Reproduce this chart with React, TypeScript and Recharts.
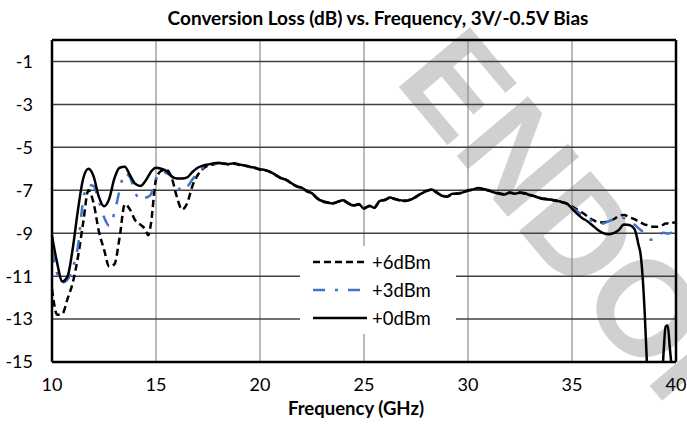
import { LineChart, Line, XAxis, YAxis, CartesianGrid, ReferenceLine } from 'recharts';

// Frequency grid (GHz), finer near the roll-off above 38 GHz
const FREQ = [
    10, 10.25, 10.5, 10.75,
    11, 11.25, 11.5, 11.75,
    12, 12.25, 12.5, 12.75,
    13, 13.25, 13.5, 13.75,
    14, 14.25, 14.5, 14.625, 14.75,
    15, 15.25, 15.5, 15.75,
    16, 16.25, 16.5, 16.75,
    17, 17.25, 17.5, 17.75,
    18, 18.25, 18.5, 18.75,
    19, 19.25, 19.5, 19.75,
    20, 20.25, 20.5, 20.75,
    21, 21.25, 21.5, 21.75,
    22, 22.25, 22.5, 22.75,
    23, 23.25, 23.5, 23.75,
    24, 24.25, 24.5, 24.75,
    25, 25.25, 25.5, 25.75,
    26, 26.25, 26.5, 26.75,
    27, 27.25, 27.5, 27.75,
    28, 28.25, 28.5, 28.75,
    29, 29.25, 29.5, 29.75,
    30, 30.25, 30.5, 30.75,
    31, 31.25, 31.5, 31.75,
    32, 32.25, 32.5, 32.75,
    33, 33.25, 33.5, 33.75,
    34, 34.25, 34.5, 34.75,
    35, 35.25, 35.5, 35.75,
    36, 36.25, 36.5, 36.75,
    37, 37.25, 37.5, 37.75,
    38, 38.1, 38.2, 38.3, 38.4, 38.5, 38.6, 38.7, 38.8, 38.9,
    39, 39.1, 39.2, 39.3, 39.4, 39.5, 39.6, 39.7, 39.8, 39.9,
    40,
];

// +6dBm LO drive
const LOSS_6 = [
    -11.6, -12.8, -12.75, -12.05,
    -11.3, -10.1, -8.5, -7.0,
    -7.6, -8.9, -9.75, -10.55,
    -10.45, -9.2, -7.65, -7.9,
    -8.4, -8.6, -8.85, -9.1, -8.6,
    -6.5, -6.1, -6.05, -6.4,
    -7.3, -7.9, -7.6, -6.8,
    -6.3, -6.0, -5.85, -5.8,
    -5.74, -5.74, -5.8, -5.76,
    -5.82, -5.85, -5.92, -5.96,
    -6.04, -6.08, -6.14, -6.3,
    -6.44, -6.5, -6.68, -6.8,
    -6.9, -7.02, -7.16, -7.36,
    -7.52, -7.58, -7.6, -7.54,
    -7.48, -7.6, -7.72, -7.66,
    -7.82, -7.74, -7.78, -7.52,
    -7.46, -7.36, -7.4, -7.48,
    -7.48, -7.42, -7.32, -7.14,
    -7.02, -6.98, -7.12, -7.24,
    -7.28, -7.18, -7.14, -7.12,
    -7.0, -6.98, -6.92, -6.96,
    -7.02, -7.08, -7.14, -7.18,
    -7.12, -7.14, -7.12, -7.16,
    -7.22, -7.28, -7.36, -7.4,
    -7.44, -7.5, -7.55, -7.62,
    -7.75, -7.9, -8.05, -8.22,
    -8.38, -8.48, -8.5, -8.44,
    -8.35, -8.2, -8.15, -8.25,
    -8.35, -8.4, -8.45, -8.5, -8.55, -8.6, -8.62, -8.65, -8.68, -8.7,
    -8.7, -8.7, -8.68, -8.64, -8.6, -8.55, -8.55, -8.58, -8.54, -8.5,
    -8.5,
];

// +3dBm LO drive
const LOSS_3 = [
    -9.8, -10.9, -11.3, -11.15,
    -10.6, -9.6, -7.45, -6.75,
    -6.8, -7.5, -8.25, -8.65,
    -8.05, -7.0, -6.2, -6.4,
    -7.1, -7.45, -7.35, -7.3, -7.2,
    -6.45, -6.15, -6.2, -6.35,
    -6.75, -7.05, -6.85, -6.5,
    -6.2, -5.95, -5.85, -5.78,
    -5.74, -5.75, -5.79, -5.75,
    -5.81, -5.85, -5.91, -5.95,
    -6.03, -6.07, -6.15, -6.29,
    -6.43, -6.5, -6.66, -6.8,
    -6.9, -7.04, -7.15, -7.37,
    -7.52, -7.57, -7.6, -7.53,
    -7.47, -7.61, -7.71, -7.65,
    -7.84, -7.73, -7.8, -7.51,
    -7.45, -7.35, -7.41, -7.47,
    -7.49, -7.43, -7.31, -7.15,
    -7.03, -6.97, -7.11, -7.25,
    -7.29, -7.17, -7.15, -7.11,
    -7.01, -6.97, -6.91, -6.95,
    -7.01, -7.09, -7.15, -7.19,
    -7.11, -7.15, -7.11, -7.15,
    -7.23, -7.29, -7.37, -7.41,
    -7.44, -7.49, -7.55, -7.66,
    -7.8, -7.98, -8.15, -8.3,
    -8.45, -8.55, -8.55, -8.45,
    -8.35, -8.25, -8.3, -8.45,
    -8.6, -8.68, -8.77, -8.85, -8.93, -9.02, -9.15, -9.25, -9.3, -9.3,
    -9.22, -9.12, -9.05, -9.0, -8.98, -9.0, -9.02, -9.0, -8.98, -8.97,
    -8.97,
];

// +0dBm LO drive (falls off the bottom of the plot near 38.6 GHz)
const LOSS_0 = [
    -9.1, -10.4, -11.25, -11.0,
    -9.7, -7.9, -6.45, -6.0,
    -6.35, -7.3, -7.75, -7.4,
    -6.45, -5.95, -5.9, -6.3,
    -6.7, -6.8, -6.55, -6.35, -6.15,
    -5.95, -6.0, -6.1, -6.35,
    -6.45, -6.45, -6.4, -6.15,
    -5.95, -5.85, -5.8, -5.75,
    -5.72, -5.76, -5.78, -5.74,
    -5.8, -5.84, -5.9, -5.95,
    -6.02, -6.06, -6.15, -6.28,
    -6.42, -6.52, -6.66, -6.82,
    -6.88, -7.05, -7.14, -7.38,
    -7.5, -7.56, -7.62, -7.52,
    -7.46, -7.62, -7.7, -7.64,
    -7.86, -7.72, -7.82, -7.5,
    -7.44, -7.34, -7.42, -7.46,
    -7.5, -7.44, -7.3, -7.16,
    -7.04, -6.96, -7.1, -7.26,
    -7.3, -7.16, -7.16, -7.1,
    -7.02, -6.96, -6.9, -6.94,
    -7.0, -7.1, -7.16, -7.2,
    -7.1, -7.16, -7.1, -7.14,
    -7.24, -7.3, -7.38, -7.42,
    -7.44, -7.48, -7.55, -7.62,
    -7.85, -8.1, -8.3, -8.45,
    -8.65, -8.85, -9.0, -9.05,
    -9.0, -8.85, -8.6, -8.62,
    -8.8, -9.1, -9.55, -10.0, -11.1, -12.8, -15.0, -17.5, -19, -19,
    -19, -19, -18.5, -16.3, -14.6, -13.35, -13.3, -14.3, -15.4, -17,
    -19,
];

const X_TICKS = [10, 15, 20, 25, 30, 35, 40];
const Y_TICKS = [-15, -13, -11, -9, -7, -5, -3, -1];

const SERIES = [
    { key: 'p6', name: '+6dBm', color: '#000000', dash: '7 4' },
    { key: 'p3', name: '+3dBm', color: '#4472C4', dash: '12 10 3 10' },
    { key: 'p0', name: '+0dBm', color: '#000000', dash: undefined },
];

const data = FREQ.map((f, i) => ({ f, p6: LOSS_6[i], p3: LOSS_3[i], p0: LOSS_0[i] }));

const FONT = 'Lato, "Open Sans", sans-serif';
const tickStyle = { fontSize: 18, fill: '#000', fontFamily: FONT };

export default function App() {
    return (
        <div style={{ position: 'absolute', left: 0, top: 0, width: 687, height: 424, background: '#fff', fontFamily: FONT, overflow: 'hidden' }}>
            {/* watermark behind the chart */}
            <svg width={687} height={424} style={{ position: 'absolute', left: 0, top: 0 }}>
                <text
                    x={393}
                    y={80}
                    transform="rotate(50 393 80)"
                    fontFamily='"Liberation Sans", Arial, sans-serif'
                    fontWeight="bold"
                    fontSize={135}
                    fill="#d0d0d0"
                >
                    ENDORSED
                </text>
            </svg>

            <div style={{ position: 'absolute', left: 0, top: 0 }}>
                <LineChart width={687} height={424} data={data} margin={{ top: 40, right: 11, bottom: 32, left: 0 }}>
                    <CartesianGrid horizontal={false} stroke="#8c8c8c" strokeWidth={1.2} />
                    <CartesianGrid vertical={false} stroke="#404040" strokeWidth={1.5} />
                    <XAxis
                        dataKey="f"
                        type="number"
                        domain={[10, 40]}
                        ticks={X_TICKS}
                        height={30}
                        tickLine={false}
                        tickSize={0}
                        tickMargin={16}
                        axisLine={{ stroke: '#000', strokeWidth: 2.5 }}
                        tick={tickStyle}
                    />
                    <YAxis
                        type="number"
                        domain={[-15, 0]}
                        ticks={Y_TICKS}
                        allowDataOverflow
                        width={52}
                        tickLine={false}
                        tickSize={0}
                        tickMargin={19}
                        axisLine={{ stroke: '#000', strokeWidth: 2.5 }}
                        tick={tickStyle}
                    />
                    <ReferenceLine y={0} stroke="#000" strokeWidth={2.5} />
                    <ReferenceLine x={40} stroke="#000" strokeWidth={2.5} />
                    {SERIES.map(s => (
                        <Line
                            key={s.key}
                            dataKey={s.key}
                            name={s.name}
                            type="monotone"
                            stroke={s.color}
                            strokeWidth={2.5}
                            strokeDasharray={s.dash}
                            dot={false}
                            activeDot={false}
                            isAnimationActive={false}
                        />
                    ))}
                </LineChart>
            </div>

            {/* title */}
            <div style={{ position: 'absolute', left: 378, top: 6, transform: 'translateX(-50%)', whiteSpace: 'nowrap', fontSize: 19, fontWeight: 700 }}>
                Conversion Loss (dB) vs. Frequency, 3V/-0.5V Bias
            </div>

            {/* x axis title */}
            <div style={{ position: 'absolute', left: 356, top: 397, transform: 'translateX(-50%)', whiteSpace: 'nowrap', fontSize: 18.5, fontWeight: 700 }}>
                Frequency (GHz)
            </div>

            {/* legend */}
            <div style={{ position: 'absolute', left: 300, top: 246, width: 156, height: 88, background: '#fff' }}>
                {SERIES.map((s, i) => (
                    <div key={s.key} style={{ position: 'absolute', left: 13, top: 5 + i * 28, height: 22, display: 'flex', alignItems: 'center' }}>
                        <svg width={54} height={6}>
                            <line x1={0} y1={3} x2={54} y2={3} stroke={s.color} strokeWidth={2.5} strokeDasharray={s.dash} />
                        </svg>
                        <span style={{ marginLeft: 5, fontSize: 18.5 }}>{s.name}</span>
                    </div>
                ))}
            </div>
        </div>
    );
}
